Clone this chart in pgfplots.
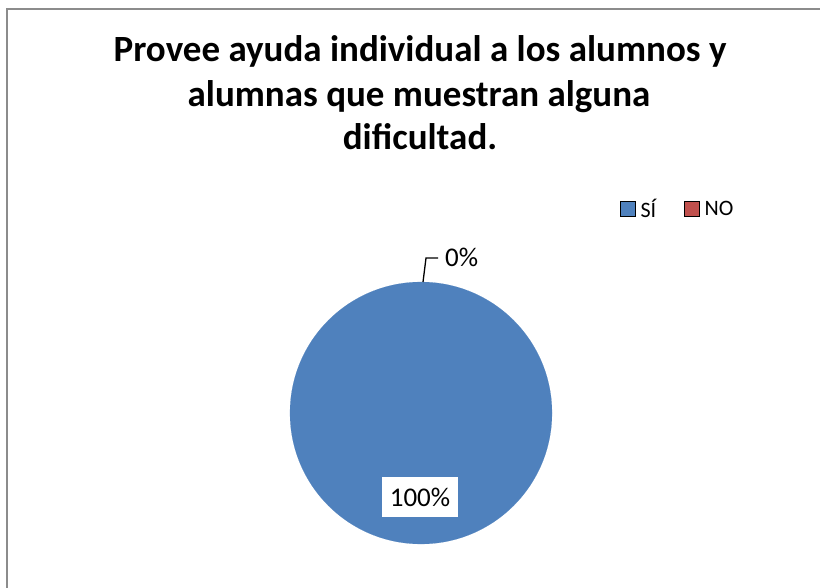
\documentclass[border=0pt]{standalone}
\usepackage{pgfplots}
\pgfplotsset{compat=1.18}
\usepackage{fontspec}
\setmainfont{Carlito}
\definecolor{pieblue}{HTML}{4F81BD}
\definecolor{piered}{HTML}{C0504D}
\definecolor{framegray}{HTML}{8C8C8C}
\begin{document}
\begin{tikzpicture}
\path[use as bounding box] (0,0) rectangle (820pt,588pt);
\begin{axis}[at={(0,0)}, anchor=south west, width=820pt, height=588pt, scale only axis,
  xmin=0, xmax=820, ymin=0, ymax=588, y dir=reverse, hide axis, clip=false,
  legend columns=2,
  legend style={draw=none, fill=none, font=\fontsize{22}{24}\selectfont,
    at={(0.7561,0.6446)}, anchor=west, inner sep=0pt,
    /tikz/every odd column/.append style={column sep=3pt},
    /tikz/every even column/.append style={column sep=26pt}},
  legend cell align=left,
  legend image code/.code={\fill[#1] (0pt,-7pt) rectangle (15pt,8pt);}
]
% SI = 100%, NO = 0%: the 100% slice is the full disc
\addplot[only marks, mark=*, mark size=131pt, mark options={fill=pieblue, draw=pieblue, line width=0.1pt}, forget plot] coordinates {(421,413)};
\addlegendimage{fill=pieblue}\addlegendentry{SÍ}
\addlegendimage{fill=piered}\addlegendentry{NO}

\node[font=\fontsize{37}{44}\selectfont\bfseries, anchor=base] at (axis cs:420,62) {Provee ayuda individual a los alumnos y};
\node[font=\fontsize{37}{44}\selectfont\bfseries, anchor=base] at (axis cs:419,107) {alumnas que muestran alguna};
\node[font=\fontsize{37}{44}\selectfont\bfseries, anchor=base] at (axis cs:420,150) {dificultad.};

\coordinate (lab100) at (axis cs:420,497);
\coordinate (lab0) at (axis cs:445,267);
\coordinate (l1) at (axis cs:423,282);
\coordinate (l2) at (axis cs:426,258);
\coordinate (l3) at (axis cs:438,258);

\draw[framegray, line width=2pt] (axis cs:7,588) -- (axis cs:7,9) -- (axis cs:820,9);
\end{axis}
\node[fill=white, font=\fontsize{27}{30}\selectfont, minimum width=76pt, minimum height=40pt, inner sep=0pt] at (lab100) {100\%};
\node[font=\fontsize{27}{30}\selectfont, anchor=base west, inner sep=0pt] at (lab0) {0\%};
\draw[black, line width=1.3pt] (l1) -- (l2) -- (l3);
\end{tikzpicture}
\end{document}
